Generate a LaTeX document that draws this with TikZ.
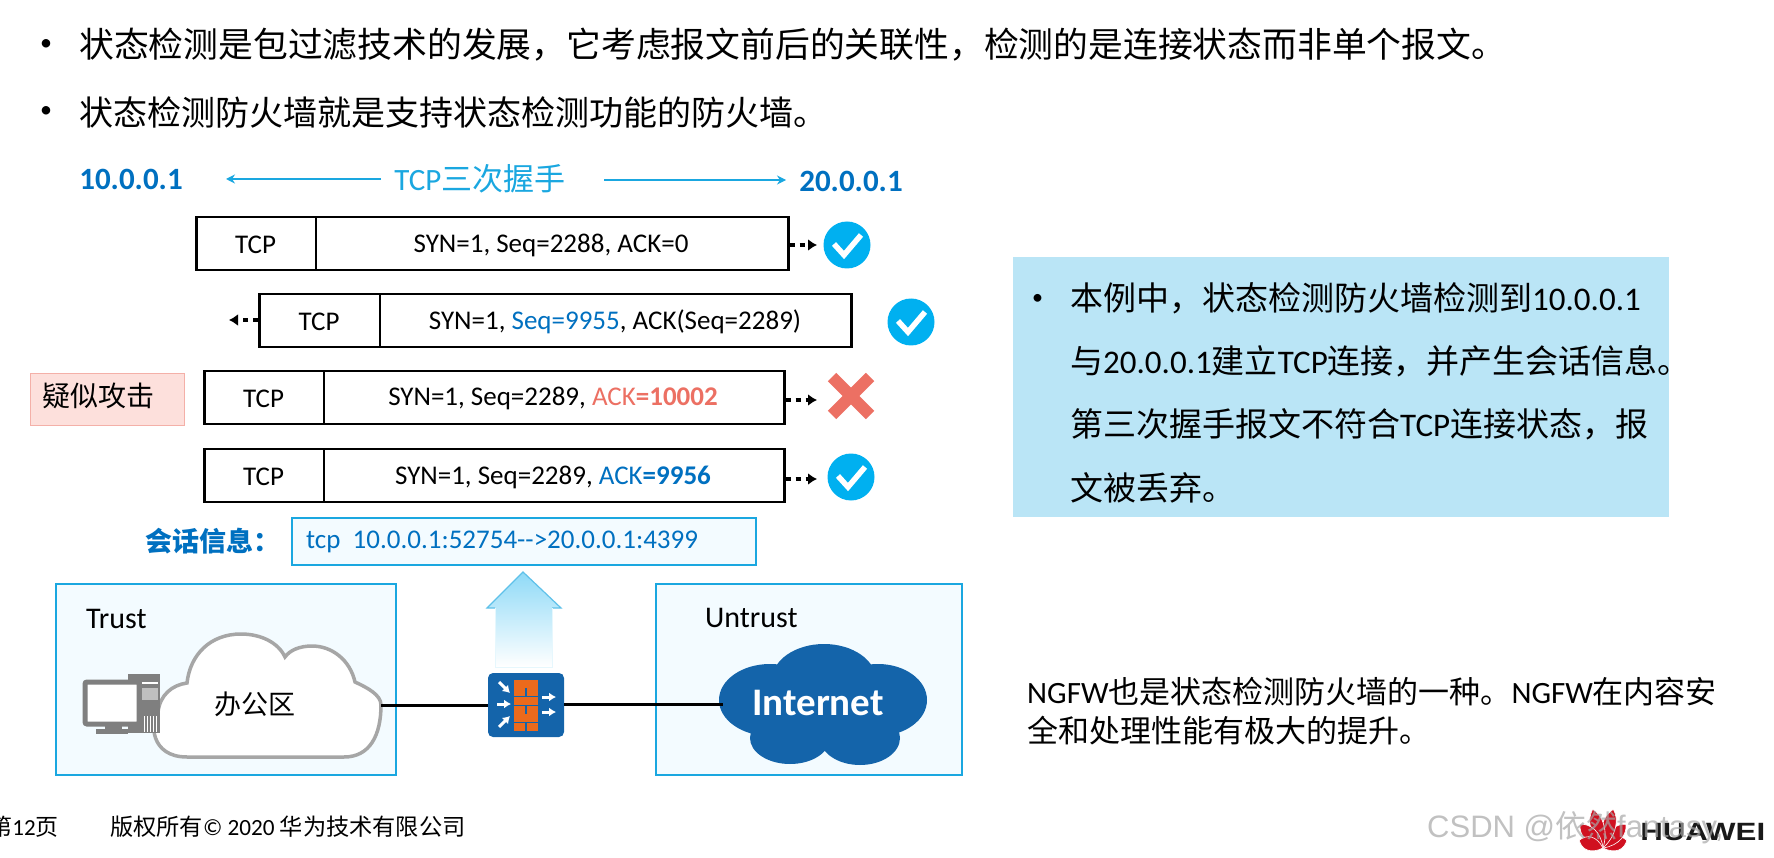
\documentclass[tikz,border=0pt]{standalone}
\usepackage{fontspec}
\setmainfont{Carlito}
\newfontfamily\cjk{Noto Sans CJK SC}
\newfontfamily\wmfont{Liberation Sans}
\usetikzlibrary{arrows.meta}
\newcommand{\zh}[1]{{\cjk #1}}
\newcommand{\fs}[1]{\fontsize{#1}{#1}\selectfont}
\definecolor{hwblue}{HTML}{0070C0}
\definecolor{lineblue}{HTML}{1AA7E0}
\definecolor{panelblue}{HTML}{BAE5F6}
\definecolor{paleblue}{HTML}{F3FBFF}
\definecolor{tickblue}{HTML}{00B0F0}
\definecolor{crossred}{HTML}{EC7063}
\definecolor{cloudblue}{HTML}{1464AA}
\definecolor{brick}{HTML}{EC6A1C}
\definecolor{pcgray}{HTML}{7F7F7F}
\definecolor{hwred}{HTML}{D01020}
\definecolor{arrowtop}{HTML}{8FDAF7}
\definecolor{attackfill}{HTML}{FDE0DC}
\definecolor{attackline}{HTML}{F4B0A8}
\tikzset{
  pktbox/.style={draw=black, line width=2.5pt, fill=white, inner sep=0pt, minimum height=53pt},
  pkttext/.style={font=\fs{27}, inner sep=0pt},
  pktarrow/.style={black, line width=3.5pt, dash pattern=on 5pt off 5pt, -{Latex[length=9pt,width=12pt]}},
  tickdot/.style={circle, fill=tickblue, minimum size=47pt, inner sep=0pt},
  tickline/.style={white, line width=5.5pt},
  zonebox/.style={draw=lineblue, line width=2pt, fill=paleblue, inner sep=0pt},
  bodytext/.style={anchor=west, inner sep=0pt, font=\fs{33}},
  headtext/.style={anchor=west, inner sep=0pt, font=\fs{34}},
  noteline/.style={anchor=west, inner sep=0pt, font=\fs{31}},
  addrtext/.style={inner sep=0pt, text=hwblue, font=\fs{31}\bfseries},
  handarrow/.style={lineblue, line width=1.2pt, -{Stealth[length=9pt,width=9pt]}},
  netline/.style={black, line width=3pt},
  zonelabel/.style={anchor=west, inner sep=0pt, font=\fs{30}},
}
\begin{document}
\begin{tikzpicture}[x=1pt,y=-1pt]
\useasboundingbox (0,0) rectangle (1774,858);

% Top bullets
\node[anchor=west, inner sep=0pt, font=\fs{24}] (dota) at (40,45) {•};
\node[headtext, font=\fs{34.8}] (heada) at (79,45) {\zh{状态检测是包过滤技术的发展，它考虑报文前后的关联性，检测的是连接状态而非单个报文。}};
\node[anchor=west, inner sep=0pt, font=\fs{24}] (dotb) at (40,112) {•};
\node[headtext] (headb) at (79,112) {\zh{状态检测防火墙就是支持状态检测功能的防火墙。}};

% Handshake header
\node[addrtext] (hosta) at (131,179) {10.0.0.1};
\node[addrtext] (hostb) at (851,181) {20.0.0.1};
\node[inner sep=0pt, text=lineblue, font=\fs{31}] (hshake) at (480,179) {TCP\zh{三次握手}};
\coordinate (leftstart) at (381,179);
\coordinate (leftend) at (226,179);
\coordinate (rightstart) at (604,180);
\coordinate (rightend) at (786,180);
\draw[handarrow] (leftstart) -- (leftend);
\draw[handarrow] (rightstart) -- (rightend);

% Packets
\foreach \name/\xa/\xb/\xm/\y in {pkta/195/787/316/243.5, pktb/258/850/380/320.5, pktc/203/783/324/397.5, pktd/203/783/324/475.5} {
    \node[pktbox, minimum width=\xb pt-\xa pt, anchor=west] (\name) at (\xa,\y) {};
    \draw[black, line width=1.5pt] (\xm,\y-26) -- (\xm,\y+26);
    \node[pkttext] (\name tcp) at ({(\xa+\xm)/2},\y+1) {TCP};
}
\node[pkttext] (texta) at (551,245) {SYN=1, Seq=2288, ACK=0};
\node[pkttext] (textb) at (615,322) {SYN=1, \textcolor{hwblue}{Seq=9955}, ACK(Seq=2289)};
\node[pkttext] (textc) at (553,398) {SYN=1, Seq=2289, \textcolor{crossred}{ACK\textbf{=10002}}};
\node[pkttext] (textd) at (553,477) {SYN=1, Seq=2289, \textcolor{hwblue}{ACK\textbf{=9956}}};

% Arrows and results
\coordinate (enda) at (817,245);
\coordinate (endb) at (229,320);
\coordinate (endc) at (817,400);
\coordinate (endd) at (817,479);
\draw[pktarrow] (pkta.east |- enda) -- (enda);
\draw[pktarrow] (pktb.west |- endb) -- (endb);
\draw[pktarrow] (pktc.east |- endc) -- (endc);
\draw[pktarrow] (pktd.east |- endd) -- (endd);
\foreach \name/\x/\y in {ticka/847/245, tickb/911/322, tickd/851/477} {
    \node[tickdot] (\name) at (\x,\y) {};
    \draw[tickline] ([shift={(-13,-1)}]\name.center) -- ([shift={(-3,10)}]\name.center) -- ([shift={(14,-10)}]\name.center);
}
\coordinate (crossc) at (851,396);
\draw[crossred, line width=12pt] ([shift={(-19,-19)}]crossc) -- ([shift={(19,19)}]crossc);
\draw[crossred, line width=12pt] ([shift={(19,-19)}]crossc) -- ([shift={(-19,19)}]crossc);

% Suspected attack label
\node[draw=attackline, fill=attackfill, line width=1pt, minimum width=154pt, minimum height=52pt, inner sep=0pt] (attack) at (107,399) {};
\node[inner sep=0pt, font=\fs{28}] (attacktext) at (98,396) {\zh{疑似攻击}};

% Session info
\node[anchor=west, inner sep=0pt, text=hwblue, font=\fs{27}\bfseries] (sesslabel) at (145,541) {\zh{会话信息：}};
\draw[lineblue, line width=1.2pt, fill=paleblue] (292,518) rectangle (756,565);
\node[anchor=west, inner sep=0pt, text=hwblue, font=\fs{27}] (sesstext) at (306,542) {tcp\ \ 10.0.0.1:52754-{}->20.0.0.1:4399};

% Zones
\filldraw[zonebox] (56,584) rectangle (396,775);
\filldraw[zonebox] (656,584) rectangle (962,775);
\node[zonelabel] (trust) at (86,619) {Trust};
\node[zonelabel] (untrust) at (705,618) {Untrust};

% Up arrow
\shade[top color=arrowtop, bottom color=white] (523,572) -- (561,608) -- (552,608) -- (552,667) -- (495,667) -- (495,608) -- (487,608) -- cycle;
\draw[lineblue!70!white, line width=1.2pt] (495,608) -- (487,608) -- (523,572) -- (561,608) -- (552,608);
\draw[cyan!10!white, line width=1pt] (495,608) -- (495,667) -- (552,667) -- (552,608);

% Office cloud
\coordinate (officeedge) at (381,705);
\filldraw[white, draw=black!35, line width=3.5pt] (187,757) -- (344,757) .. controls (370,757) and (381,735) .. (officeedge) .. controls (381,695) and (368,688) .. (355,682) .. controls (350,660) and (332,646) .. (312,646) .. controls (300,646) and (290,650) .. (285,657) .. controls (278,642) and (260,634) .. (241,634) .. controls (210,634) and (190,655) .. (187,683) .. controls (172,685) and (160,695) .. (158,712) .. controls (150,722) and (150,757) .. (187,757) -- cycle;
\node[inner sep=0pt, font=\fs{27}] (office) at (255,704) {\zh{办公区}};

% Computer
\fill[pcgray] (128,674) rectangle (160,733);
\fill[white] (142,682) rectangle (158,684);
\fill[black!25] (142,688) rectangle (158,700);
\foreach \x in {144,147,150,153,156} {
    \fill[white] (\x,716) rectangle (\x+1,732);
}
\filldraw[pcgray, fill=white, line width=5pt, rounded corners=2pt] (85,682) rectangle (139,724);
\fill[pcgray] (105,726) rectangle (122,729);
\fill[pcgray] (96,729) rectangle (128,734);

% Internet cloud
\fill[cloudblue] (824,680) ellipse (52 and 36);
\fill[cloudblue] (770,700) ellipse (51 and 36);
\fill[cloudblue] (878,700) ellipse (49 and 36);
\fill[cloudblue] (824,705) ellipse (80 and 40);
\fill[cloudblue] (790,738) ellipse (40 and 26);
\fill[cloudblue] (860,738) ellipse (40 and 27);
\node[inner sep=0pt, text=white, font=\fs{39}\bfseries] (internet) at (818,703) {Internet};
\coordinate (internetedge) at (723,704);

% Firewall
\node[fill=cloudblue, rounded corners=5pt, minimum width=76pt, minimum height=64pt, inner sep=0pt] (fw) at (526,705) {};
\foreach \y in {680,697,714} {
    \fill[brick] (514,\y) rectangle (538,\y+7.5);
}
\foreach \y in {688,706,723} {
    \fill[brick] (514,\y) rectangle (525,\y+7.5);
    \fill[brick] (527,\y) rectangle (538,\y+7.5);
}
\foreach \xa/\ya/\xb/\yb in {499/682/510/693, 497/704/511/704, 499/727/510/716, 542/697/556/697, 542/712/556/712} {
    \draw[white, line width=3pt, -{Latex[length=7pt,width=9pt]}] (\xa,\ya) -- (\xb,\yb);
}

% Links
\draw[netline] (officeedge) -- (fw.west |- officeedge);
\draw[netline] (fw.east |- internetedge) -- (internetedge);

% Right panel
\fill[panelblue] (1013,257) rectangle (1669,517);
\node[anchor=west, inner sep=0pt, font=\fs{22}] (paneldot) at (1032,299) {•};
\node[bodytext] (panela) at (1070,298) {\zh{本例中，状态检测防火墙检测到}10.0.0.1};
\node[bodytext] (panelb) at (1070,361) {\zh{与}20.0.0.1\zh{建立}TCP\zh{连接，并产生会话信息。}};
\node[bodytext] (panelc) at (1070,424) {\zh{第三次握手报文不符合}TCP\zh{连接状态，报}};
\node[bodytext] (paneld) at (1070,488) {\zh{文被丢弃。}};

% NGFW note
\node[noteline] (notea) at (1027,692) {NGFW\zh{也是状态检测防火墙的一种。}NGFW\zh{在内容安}};
\node[noteline] (noteb) at (1027,731) {\zh{全和处理性能有极大的提升。}};

% Footer
\node[anchor=east, inner sep=0pt, font=\fs{23}] (pageno) at (59,827) {\zh{第}12\zh{页}};
\node[anchor=west, inner sep=0pt, font=\fs{23.2}] (copyr) at (110,827) {\zh{版权所有}© 2020 \zh{华为技术有限公司}};

% Logo and watermark
\foreach \a/\s in {-72/25, -44/33, -15/40, 15/40, 44/33, 72/25} {
    \filldraw[hwred, draw=white, line width=0.6pt, shift={(1603,848)}, rotate=\a] (0,0) .. controls (-10,-0.4*\s) and (-8,-0.8*\s) .. (0,-\s) .. controls (8,-0.8*\s) and (10,-0.4*\s) .. (0,0);
}
\node[anchor=west, inner sep=0pt, font=\wmfont\fs{25}\bfseries, text=black!90, xscale=1.25, transform shape] (brand) at (1640,832) {HUAWEI};
\node[anchor=west, inner sep=0pt, font=\wmfont\fs{31}, text=black!35, opacity=0.7] (mark) at (1427,828) {CSDN @\zh{依然}fantasy,};
\end{tikzpicture}
\end{document}
